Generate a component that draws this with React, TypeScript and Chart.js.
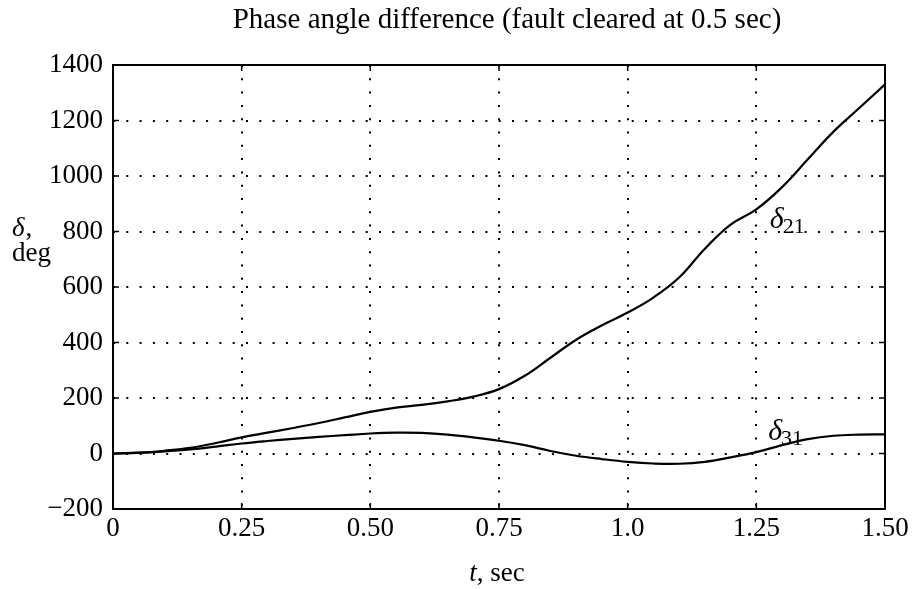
import React, { useEffect, useRef } from "react";
import { Chart, registerables } from "chart.js";

Chart.register(...registerables);

const titleText = "Phase angle difference (fault cleared at 0.5 sec)";
const xAxisLabel = ["t", ", sec"];
const yAxisLabel = ["δ,", "deg"];

const tValues = [
  0, 0.05, 0.1, 0.15, 0.2, 0.25, 0.3, 0.35, 0.4, 0.45, 0.5, 0.55, 0.6, 0.65, 0.7, 0.75,
  0.8, 0.85, 0.9, 0.95, 1.0, 1.05, 1.1, 1.15, 1.2, 1.25, 1.3, 1.35, 1.4, 1.45, 1.5,
];
const delta21 = [
  0, 3, 10, 20, 38, 58, 75, 92, 110, 130, 150, 165, 175, 188, 205, 232,
  280, 345, 410, 462, 508, 562, 634, 738, 825, 880, 960, 1060, 1160, 1245, 1330,
];
const delta31 = [
  0, 2, 8, 15, 25, 36, 45, 53, 60, 66, 72, 75, 74, 68, 58, 46,
  30, 9, -8, -20, -30, -36, -37, -30, -14, 5, 30, 52, 64, 68, 69,
];

const xTickValues = [0, 0.25, 0.5, 0.75, 1.0, 1.25, 1.5];
const xTickLabels = ["0", "0.25", "0.50", "0.75", "1.0", "1.25", "1.50"];
const yTickValues = [-200, 0, 200, 400, 600, 800, 1000, 1200, 1400];

const curveLabels = [
  { name: "δ", sub: "21", t: 1.276, v: 813 },
  { name: "δ", sub: "31", t: 1.273, v: 49 },
];

const SERIF = '"Liberation Serif", "Times New Roman", serif';

const overlayPlugin = {
  id: "overlay",
  afterDraw(chart: any) {
    const { ctx, chartArea: a, scales } = chart;
    const xs = scales.x;
    const ys = scales.y;
    ctx.save();
    ctx.strokeStyle = "#000";
    ctx.lineWidth = 2;
    ctx.setLineDash([]);
    ctx.strokeRect(a.left, a.top, a.right - a.left, a.bottom - a.top);

    // inward tick marks
    ctx.lineWidth = 1.5;
    const tl = 6;
    ctx.beginPath();
    xTickValues.forEach((v) => {
      const px = xs.getPixelForValue(v);
      ctx.moveTo(px, a.bottom);
      ctx.lineTo(px, a.bottom - tl);
      ctx.moveTo(px, a.top);
      ctx.lineTo(px, a.top + tl);
    });
    yTickValues.forEach((v) => {
      const py = ys.getPixelForValue(v);
      ctx.moveTo(a.left, py);
      ctx.lineTo(a.left + tl, py);
      ctx.moveTo(a.right, py);
      ctx.lineTo(a.right - tl, py);
    });
    ctx.stroke();

    ctx.fillStyle = "#000";
    ctx.textBaseline = "alphabetic";

    // title
    ctx.font = `29px ${SERIF}`;
    ctx.textAlign = "center";
    ctx.fillText(titleText, (a.left + a.right) / 2 + 8, 28);

    // x axis title: italic t + ", sec"
    ctx.textAlign = "left";
    ctx.font = `italic 27px ${SERIF}`;
    const w1 = ctx.measureText(xAxisLabel[0]).width;
    ctx.font = `27px ${SERIF}`;
    const w2 = ctx.measureText(xAxisLabel[1]).width;
    const cx = (a.left + a.right) / 2 - 2;
    const sx = cx - (w1 + w2) / 2;
    ctx.font = `italic 27px ${SERIF}`;
    ctx.fillText(xAxisLabel[0], sx, 581);
    ctx.font = `27px ${SERIF}`;
    ctx.fillText(xAxisLabel[1], sx + w1, 581);

    // y axis title
    ctx.font = `italic 27px ${SERIF}`;
    ctx.fillText(yAxisLabel[0].slice(0, 1), 12, 236);
    const dw = ctx.measureText(yAxisLabel[0].slice(0, 1)).width;
    ctx.font = `27px ${SERIF}`;
    ctx.fillText(yAxisLabel[0].slice(1), 12 + dw + 1, 236);
    ctx.fillText(yAxisLabel[1], 12, 261);

    // curve labels
    curveLabels.forEach((c) => {
      const px = xs.getPixelForValue(c.t);
      const py = ys.getPixelForValue(c.v);
      ctx.font = `italic 30px ${SERIF}`;
      ctx.fillText(c.name, px, py);
      const nw = ctx.measureText(c.name).width;
      ctx.font = `22px ${SERIF}`;
      ctx.fillText(c.sub, px + nw - 1, py + 5);
    });
    ctx.restore();
  },
};

export default function App() {
  const canvasRef = useRef<HTMLCanvasElement | null>(null);

  useEffect(() => {
    const canvas = canvasRef.current;
    if (!canvas) return;
    const chart = new Chart(canvas, {
      type: "line",
      data: {
        datasets: [
          {
            label: "δ21",
            data: tValues.map((t, i) => ({ x: t, y: delta21[i] })),
            borderColor: "#000",
            borderWidth: 2.2,
            pointRadius: 0,
            tension: 0.4,
            fill: false,
          },
          {
            label: "δ31",
            data: tValues.map((t, i) => ({ x: t, y: delta31[i] })),
            borderColor: "#000",
            borderWidth: 2.2,
            pointRadius: 0,
            tension: 0.4,
            fill: false,
          },
        ],
      },
      options: {
        responsive: false,
        animation: false,
        devicePixelRatio: 1,
        layout: { padding: { top: 65, right: 30, left: 0, bottom: 0 } },
        plugins: {
          legend: { display: false },
          title: { display: false },
          tooltip: { enabled: false },
        },
        scales: {
          x: {
            type: "linear",
            min: 0,
            max: 1.5,
            afterBuildTicks: (scale: any) => {
              scale.ticks = xTickValues.map((v) => ({ value: v }));
            },
            afterFit: (scale: any) => {
              scale.height = 80;
            },
            ticks: {
              autoSkip: false,
              maxRotation: 0,
              padding: 4,
              color: "#000",
              font: { family: SERIF, size: 27 },
              callback: (v: any) => {
                const i = xTickValues.indexOf(Number(v));
                return i >= 0 ? xTickLabels[i] : "";
              },
            },
            grid: {
              color: "#000",
              lineWidth: 2,
              drawTicks: false,
            },
            border: { display: false, dash: [2, 11.3] },
          },
          y: {
            type: "linear",
            min: -200,
            max: 1400,
            afterBuildTicks: (scale: any) => {
              scale.ticks = yTickValues.map((v) => ({ value: v }));
            },
            afterFit: (scale: any) => {
              scale.width = 113;
            },
            ticks: {
              padding: 10,
              color: "#000",
              font: { family: SERIF, size: 27 },
              callback: (v: any) => (Number(v) < 0 ? "−" + Math.abs(Number(v)) : String(v)),
            },
            grid: {
              color: "#000",
              lineWidth: 2,
              drawTicks: false,
            },
            border: { display: false, dash: [2, 11.3] },
          },
        },
      },
      plugins: [overlayPlugin],
    });
    return () => chart.destroy();
  }, []);

  return (
    <div style={{ position: "fixed", left: 0, top: 0, width: 915, height: 589, background: "#fff" }}>
      <canvas ref={canvasRef} width={915} height={589} style={{ width: 915, height: 589, display: "block" }} />
    </div>
  );
}
